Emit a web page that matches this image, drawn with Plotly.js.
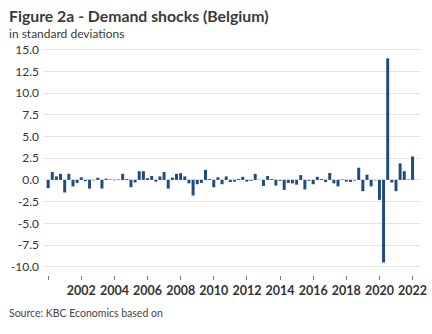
<!DOCTYPE html>
<html>
<head>
<meta charset="utf-8">
<script src="https://cdn.plot.ly/plotly-3.0.1.min.js"></script>
<style>html,body{margin:0;padding:0;background:#fff;}#chart{width:432px;height:334px;}</style>
</head>
<body>
<div id="chart"></div>
<script>
// Quarterly demand shocks, 2000Q1 .. 2022Q1
const startYear = 2000;
const shocks = [
  -0.95, 0.9, 0.4, 0.7, -1.45, 0.7, -0.75, -0.35,
  0.3, -0.15, -1.0, -0.05, 0.25, -1.0, 0.15, 0.05,
  -0.05, 0.05, 0.7, 0.1, -0.85, -0.3, 1.0, 1.0,
  0.2, 0.45, -0.2, 0.4, 0.9, -1.0, 0.27, 0.7,
  0.77, 0.4, -0.4, -1.8, -0.5, -0.35, 1.15, 0.1,
  -0.85, 0.3, -0.5, 0.4, -0.25, -0.2, 0.1, 0.35,
  -0.2, -0.1, 0.7, 0.02, -0.7, 0.45, 0.1, -0.65,
  -0.1, -1.15, -0.35, -0.4, -0.55, 0.55, -1.1, -0.1,
  -0.5, 0.35, 0.1, -0.25, 0.8, -0.4, -0.75, 0.05,
  -0.2, -0.25, -0.07, 1.4, -1.3, 0.6, -0.75, -0.05,
  -2.3, -9.5, 14.0, -0.3, -1.3, 1.9, 1.0, 0.05,
  2.7
];
const quarterDates = shocks.map((v, i) => startYear + i / 4);
const tickYears = [2000, 2002, 2004, 2006, 2008, 2010, 2012, 2014, 2016, 2018, 2020, 2022];
const tickLabels = ['', '2002', '2004', '2006', '2008', '2010', '2012', '2014', '2016', '2018', '2020', '2022'];
const yTicks = [-10, -7.5, -5, -2.5, 0, 2.5, 5, 7.5, 10, 12.5, 15];
const yLabels = ['-10.0', '-7.5', '-5.0', '-2.5', '0.0', '2.5', '5.0', '7.5', '10.0', '12.5', '15.0'];

const font = 'Lato, "Open Sans", sans-serif';
const W = 432, H = 334, M = {l: 44, r: 12, t: 47, b: 59};
const pw = W - M.l - M.r, ph = H - M.t - M.b;
const px = x => (x - M.l) / pw;          // pixel -> paper x
const py = y => (H - M.b - y) / ph;      // pixel -> paper y

Plotly.newPlot('chart', [{
  type: 'bar',
  x: quarterDates,
  y: shocks,
  width: shocks.map(() => 0.18),
  marker: {color: '#1f4a84'},
  hoverinfo: 'x+y'
}], {
  width: W, height: H,
  margin: M,
  paper_bgcolor: '#fff', plot_bgcolor: '#fff',
  showlegend: false,
  font: {family: font, color: '#333', size: 12},
  xaxis: {
    range: [1999.75, 2022.45],
    tickvals: tickYears, ticktext: tickLabels,
    ticks: 'outside', ticklen: 4, tickcolor: '#777', tickwidth: 1,
    showgrid: false, zeroline: false, showline: false,
    tickfont: {family: font, size: 12.5, color: '#333', weight: 'bold'}
  },
  yaxis: {
    range: [-10.95, 15.3],
    tickvals: yTicks, ticktext: yLabels,
    showgrid: true, gridcolor: '#e4e4e4', gridwidth: 1,
    zeroline: false, showline: false, ticks: '',
    ticklabelstandoff: 4,
    tickfont: {family: font, size: 12, color: '#333'}
  },
  annotations: [
    {text: '<b>Figure 2a - Demand shocks (Belgium)</b>', xref: 'paper', yref: 'paper',
     x: px(7), y: py(15), showarrow: false, xanchor: 'left', yanchor: 'middle',
     font: {family: font, size: 15.8, color: '#3a3a3a'}},
    {text: 'in standard deviations', xref: 'paper', yref: 'paper',
     x: px(7), y: py(33), showarrow: false, xanchor: 'left', yanchor: 'middle',
     font: {family: font, size: 12, color: '#3a3a3a'}},
    {text: 'Source: KBC Economics based on', xref: 'paper', yref: 'paper',
     x: px(7), y: py(313), showarrow: false, xanchor: 'left', yanchor: 'middle',
     font: {family: font, size: 10.5, color: '#444'}}
  ]
}, {displayModeBar: false, staticPlot: true});
</script>
</body>
</html>
